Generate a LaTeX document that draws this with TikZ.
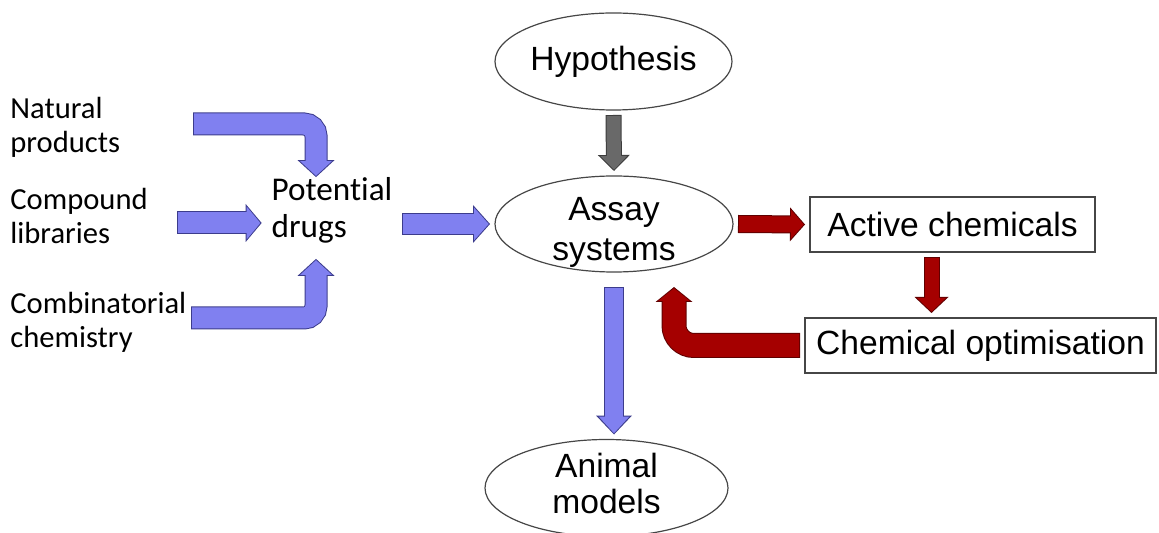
\documentclass[tikz,border=0pt]{standalone}
\usepackage{fontspec}
\setmainfont{Liberation Sans}
\newfontfamily\calibri[Ligatures=NoCommon]{Carlito}
\usetikzlibrary{arrows.meta,shapes.geometric}

\definecolor{bluefill}{RGB}{128,128,240}
\definecolor{blueline}{RGB}{60,60,140}
\definecolor{redfill}{RGB}{165,0,0}
\definecolor{redline}{RGB}{95,0,0}
\definecolor{grayfill}{RGB}{105,105,105}
\definecolor{grayline}{RGB}{60,60,60}
\definecolor{edge}{RGB}{70,70,70}

\tikzset{
  bubble/.style={ellipse, draw=edge, line width=0.6pt, inner sep=-15pt, outer sep=2.5pt,
    align=center, font=\fontsize{16.8}{19}\selectfont},
  box/.style={draw=edge, line width=0.9pt, inner sep=0pt, outer sep=2.5pt,
    minimum height=27.5pt, font=\fontsize{16.8}{16}\selectfont},
  source/.style={anchor=west, inner sep=0pt, align=left,
    font=\calibri\fontsize{15.3}{17}\selectfont},
  % freccia piena: riempimento, bordo, gambo, larghezza punta, lunghezza punta (pt)
  blockarrow/.code n args={5}{%
    \pgfmathsetmacro\baShaft{#3+1}%
    \pgfmathsetmacro\baLen{#5-1.15}%
    \pgfmathsetmacro\baWid{#4-2.6}%
    \edef\baNext{\noexpand\tikzset{draw=#1, line width=#3pt,
      -{Triangle[length=\baLen pt, width=\baWid pt, line width=0pt]},
      shorten <=0.5pt, shorten >=0.65pt,
      preaction={draw=#2, line width=\baShaft pt,
        -{Triangle[length=#5pt, width=#4pt, line width=0pt]},
        shorten <=0pt, shorten >=0pt}}}%
    \baNext}
}

\begin{document}
\begin{tikzpicture}[x=0.5pt, y=-0.5pt]
\useasboundingbox (0,0) rectangle (1159,533);
\clip (0,0) rectangle (1159,533);

% Sorgenti a sinistra
\node[source] (natural) at (10,127) {Natural\\products};
\node[source] (comp) at (10,216) {Compound\\libraries};
\node[source] (comb) at (10,322) {Combinatorial\\chemistry};
\node[inner sep=0pt, outer xsep=5pt, outer ysep=0pt, align=left,
  font=\calibri\fontsize{16.6}{18.5}\selectfont] (drugs) at (332,210) {Potential\\drugs};

% Ellissi e riquadri
\node[bubble, minimum width=118.5pt, minimum height=48.5pt] (hyp) at (613.5,61.5) {Hypothesis};
\node[bubble, minimum width=119pt, minimum height=48pt,
  font=\fontsize{16.8}{20}\selectfont] (assay) at (614,224) {\rule{0pt}{20pt}Assay\\systems};
\node[bubble, minimum width=121.5pt, minimum height=48.5pt,
  font=\fontsize{16.8}{18}\selectfont] (animal) at (606.5,488) {Animal\\models\rule[-5pt]{0pt}{5pt}};
\node[box, minimum width=142.5pt] (active) at (952.5,224.5) {Active chemicals};
\node[box, minimum width=175.5pt] (chemopt) at (980.5,345.5) {Chemical optimisation};

% Punti ausiliari
\coordinate (nat-out) at (193,124);
\coordinate (comp-out) at (177,223);
\coordinate (comb-out) at (191,318);
\coordinate (drugs-top) at ([xshift=-8pt]drugs.north);
\coordinate (drugs-bot) at ([xshift=-8pt,yshift=-8pt]drugs.south);
\coordinate (act-out) at ([xshift=-10.5pt]active.south);
\coordinate (opt-in) at ([xshift=30pt,yshift=-5pt]assay.south);

% Frecce blu
\draw[blockarrow={bluefill}{blueline}{10.5}{18.5}{8.5}, rounded corners=6pt] (nat-out) -| (drugs-top);
\draw[blockarrow={bluefill}{blueline}{10.5}{19}{8}] (comp-out) -- (comp-out -| drugs.west);
\draw[blockarrow={bluefill}{blueline}{10.5}{18.5}{8.5}, rounded corners=6pt] (comb-out) -| (drugs-bot);
\draw[blockarrow={bluefill}{blueline}{10}{19}{8.5}] (drugs.east |- assay.west) -- (assay.west);
\draw[blockarrow={bluefill}{blueline}{9}{18}{9.5}] ([yshift=-5pt]assay.south) -- (assay.south |- animal.north);

% Freccia grigia
\draw[blockarrow={grayfill}{grayline}{7}{16}{8}] (hyp.south) -- (assay.north);

% Frecce rosse
\draw[blockarrow={redfill}{redline}{8}{17}{7.5}] (assay.east) -- (active.west);
\draw[blockarrow={redfill}{redline}{7}{17}{8}] (act-out) -- (act-out |- chemopt.north);
\draw[blockarrow={redfill}{redline}{11.5}{18.5}{7.5}, rounded corners=10pt] (chemopt.west) -| (opt-in);

\end{tikzpicture}
\end{document}
